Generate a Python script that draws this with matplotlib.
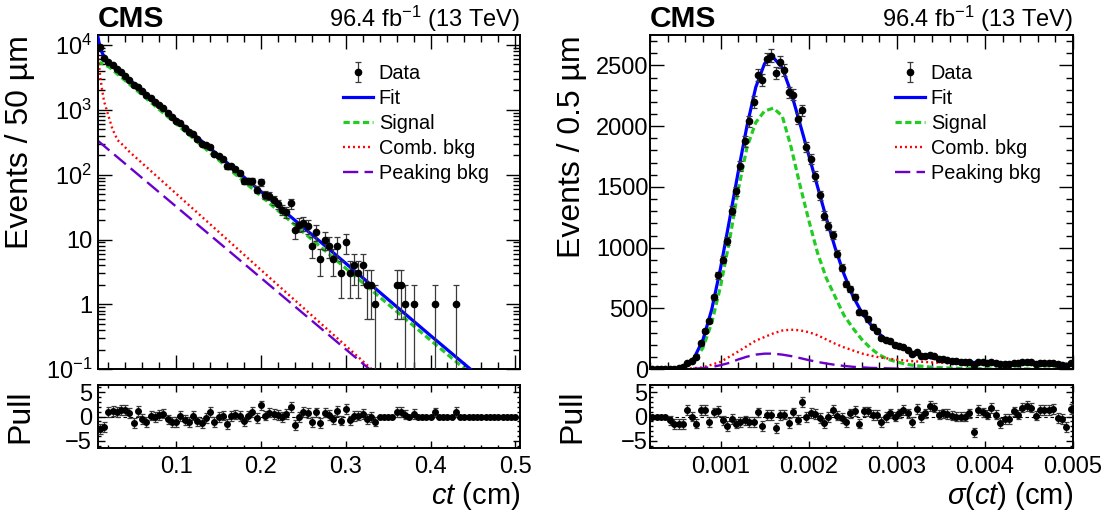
import numpy as np
import matplotlib.pyplot as plt
from matplotlib.ticker import MultipleLocator, FixedLocator, FixedFormatter, LogLocator, NullFormatter

plt.rcParams['font.family'] = ['Liberation Sans', 'DejaVu Sans']
plt.rcParams['mathtext.fontset'] = 'custom'
plt.rcParams['mathtext.rm'] = 'Liberation Sans'
plt.rcParams['mathtext.it'] = 'Liberation Sans:italic'
plt.rcParams['mathtext.bf'] = 'Liberation Sans:bold'
plt.rcParams['lines.scale_dashes'] = False

# ---------------- ct distribution (left) ----------------
ct_xlim = (0.0075, 0.5055)
ct_first_center = 0.01
ct_bin = 0.005
ct_counts = [9250, 6330, 5470, 4862, 4270, 3786, 3343, 2908, 2457, 2280,
             1935, 1676, 1523, 1330, 1186, 1052, 891, 766, 675, 621,
             529, 454, 426, 353, 302, 282, 267, 205, 195, 176,
             134, 135, 122, 105, 81, 81, 79, 59, 76, 49,
             47, 40, 35, 29, 27, 36, 14, 17, 18, 16,
             8, 13, 5, 10, 8, 5, 8, 3, 9, 3,
             4, 3, 4, 2, 2, 1, 0, 0, 0, 0,
             2, 2, 1, 0, 1, 0, 0, 0, 0, 1,
             0, 0, 0, 0, 1, 0, 0, 0, 0, 0,
             0, 0, 0, 0, 0, 0, 0, 0, 0]
ct_pull = [-2.6, -2.1, 0.9, 1.1, 0.9, 1.3, 1.4, 0.7, -1.4, 1.2,
           -0.5, -1.1, 0.2, -0.1, 0.35, 0.6, -0.6, -1.2, -1.1, 0.1,
           -0.7, -1.2, 0.2, -1.0, -1.4, -0.35, 0.9, -1.2, -0.1, 0.2,
           -1.5, 0.1, 0.4, 0.1, -1.0, 0.1, 0.9, -0.35, 2.3, 0.2,
           0.8, 0.5, 0.35, -0.1, 0.5, 2.0, -1.8, -0.1, 0.9, 0.7,
           -1.2, 0.85, -1.3, 0.8, 0.35, -0.6, 1.2, -0.85, 1.5, -0.8,
           0.1, 0.2, 0.55, -0.5, -0.1, -1.05, 0, 0, 0, 0,
           0.9, 0.9, 0.4, 0, 0.55, 0, 0, 0, 0, 0.85,
           0, 0, 0, 0, 0.9, 0, 0, 0, 0, 0,
           0, 0, 0, 0, 0, 0, 0, 0, 0]

ct_fit_x = [0.0075, 0.009, 0.01, 0.0125, 0.015, 0.0175, 0.021, 0.05, 0.1, 0.2, 0.3, 0.4, 0.45]
ct_fit_y = [14000, 11000, 9600, 7700, 6600, 5900, 5370, 2560, 713, 55, 4.3, 0.33, 0.093]
ct_sig_x = [0.0075, 0.011, 0.015, 0.021, 0.05, 0.1, 0.2, 0.3, 0.4, 0.45]
ct_sig_y = [5000, 5300, 5000, 4570, 2180, 607, 46.8, 3.6, 0.28, 0.079]
ct_comb_x = [0.0075, 0.009, 0.0105, 0.0125, 0.015, 0.019, 0.025, 0.031, 0.038, 0.045, 0.1, 0.2, 0.3, 0.335]
ct_comb_y = [7500, 5000, 3200, 2100, 1350, 910, 500, 340, 280, 225, 51, 3.4, 0.23, 0.089]
ct_peak_x = [0.0075, 0.1, 0.2, 0.3, 0.335]
ct_peak_y = [335, 32.2, 2.56, 0.203, 0.084]

# ---------------- sigma(ct) distribution (right) ----------------
sg_xlim = (0.0002, 0.005)
sg_first_center = 0.000225
sg_bin = 0.00005
sg_counts = [0, 0, 0, 0, 1, 2, 6, 15, 48, 70,
             104, 213, 317, 397, 590, 773, 901, 1053, 1304, 1463,
             1674, 1875, 2040, 2198, 2421, 2380, 2555, 2580, 2434, 2525,
             2460, 2277, 2260, 2060, 2130, 1826, 1729, 1590, 1431, 1263,
             1177, 1102, 951, 833, 700, 662, 597, 468, 464, 411,
             351, 315, 257, 243, 230, 198, 189, 180, 156, 122,
             140, 112, 111, 118, 106, 87, 84, 77, 71, 65,
             62, 59, 62, 31, 63, 58, 54, 62, 52, 39,
             45, 44, 54, 49, 59, 60, 57, 45, 53, 52,
             52, 52, 40, 38, 27, 49]
sg_pull = [0, 0, 0, 0, -0.8, -1.6, -1.6, -1.6, 1.3, 0,
           -1.45, 1.3, 1.3, -1.1, 0.85, 1.2, -0.8, -2.0, -0.45, -1.45,
           -1.1, -0.8, -1.1, -1.1, 0.85, -2.0, 0.3, 0.3, -2.4, 0.3,
           0.4, -1.3, 0.85, -0.65, 3.0, -0.1, 0.7, 0.5, -0.25, -1.3,
           -0.1, 1.3, 0.2, -0.25, -1.1, 0.65, 1.2, -1.45, 1.05, 1.05,
           0.3, 0.3, -1.1, -0.1, 0.65, 0, 0.65, 1.3, 0.65, -1.1,
           1.5, -0.1, 0.65, 2.2, 1.85, 0.4, 0.65, 0.5, 0.2, 0,
           0, 0, 0.65, -3.3, 1.3, 0.85, 0.4, 1.7, 0.4, -1.3,
           -0.45, -0.45, 1.05, 0.4, 1.85, 2.2, 1.85, 0.2, 1.3, 1.3,
           1.3, 1.5, -0.25, -0.45, -2.2, 1.5]

sg_fit_x = [0.0002, 0.0004, 0.0005, 0.0006, 0.0007, 0.0008, 0.0009, 0.001, 0.0011, 0.0012,
            0.0013, 0.0014, 0.0015, 0.0016, 0.0017, 0.0018, 0.0019, 0.002, 0.0021, 0.0022,
            0.0023, 0.0024, 0.0025, 0.0026, 0.0027, 0.0028, 0.0029, 0.003, 0.0032, 0.0034,
            0.0036, 0.0038, 0.004, 0.0043, 0.0046, 0.005]
sg_fit_y = [0, 1, 4, 30, 92, 240, 490, 830, 1220, 1620,
            2000, 2320, 2515, 2565, 2480, 2280, 2025, 1765, 1505, 1245,
            1000, 785, 605, 470, 370, 292, 232, 190, 130, 92,
            71, 58, 52, 47, 45, 40]
sg_sig_x = [0.0002, 0.0005, 0.0006, 0.0007, 0.0008, 0.0009, 0.001, 0.0011, 0.0012, 0.0013,
            0.0014, 0.0015, 0.0016, 0.0017, 0.0018, 0.0019, 0.002, 0.0021, 0.0022, 0.0023,
            0.0024, 0.0025, 0.0026, 0.0027, 0.0028, 0.0029, 0.003, 0.0031, 0.0032, 0.0034,
            0.0036, 0.004, 0.005]
sg_sig_y = [0, 3, 20, 65, 175, 380, 680, 1050, 1470, 1825,
            2030, 2125, 2148, 2085, 1830, 1520, 1230, 960, 750, 598,
            445, 340, 248, 175, 118, 82, 60, 42, 30, 16,
            9, 3, 0.5]
sg_comb_x = [0.0002, 0.0006, 0.0008, 0.001, 0.0012, 0.0014, 0.0016, 0.0017, 0.0018, 0.0019,
             0.002, 0.0021, 0.0022, 0.0023, 0.0024, 0.0025, 0.0026, 0.0027, 0.0028, 0.003,
             0.0032, 0.0034, 0.0036, 0.004, 0.0045, 0.005]
sg_comb_y = [0, 2, 15, 60, 145, 235, 295, 318, 325, 320,
             305, 280, 245, 210, 180, 155, 130, 112, 98, 78,
             65, 56, 50, 42, 36, 32]
sg_peak_x = [0.0002, 0.0006, 0.0008, 0.0009, 0.001, 0.0011, 0.0012, 0.0013, 0.0014, 0.0015,
             0.0016, 0.0017, 0.0018, 0.0019, 0.002, 0.0021, 0.0022, 0.0023, 0.0024, 0.0025,
             0.0027, 0.003, 0.0035, 0.004, 0.005]
sg_peak_y = [0, 1, 8, 18, 33, 52, 80, 103, 120, 128,
             128, 120, 108, 92, 75, 60, 47, 36, 27, 20,
             11, 5, 2, 1, 0.3]

legend_labels = ['Data', 'Fit', 'Signal', 'Comb. bkg', 'Peaking bkg']

W, H = 1112, 512
fig = plt.figure(figsize=(W / 100, H / 100), dpi=100)


def px_axes(x0, x1, ytop, ybot):
    return fig.add_axes([x0 / W, 1 - ybot / H, (x1 - x0) / W, (ybot - ytop) / H])


def style(ax, major, minor):
    ax.tick_params(which='both', direction='in', top=True, right=True, width=1.0,
                   labelsize=17, colors='black')
    ax.tick_params(which='major', length=major)
    ax.tick_params(which='minor', length=minor)
    for s in ax.spines.values():
        s.set_linewidth(1.4)


def draw_curves(ax, fit, sig, comb, peak):
    ax.plot(fit[0], fit[1], color='#0000ff', lw=2.3, label='Fit', zorder=3)
    ax.plot(sig[0], sig[1], color='#22cc22', lw=2.3, dashes=(4.5, 2.5), label='Signal', zorder=2)
    ax.plot(comb[0], comb[1], color='#ff0000', lw=1.7, dashes=(1.4, 2.2), label='Comb. bkg', zorder=2)
    ax.plot(peak[0], peak[1], color='#6a00cc', lw=1.7, dashes=(11, 4.5), label='Peaking bkg', zorder=2)


def draw_data(ax, x, y, ms=4.5):
    return ax.errorbar(x, y, yerr=np.sqrt(y), fmt='o', color='black', ms=ms,
                       ecolor='#3a3a3a', elinewidth=0.9, capsize=2, capthick=0.9,
                       label='Data', zorder=5)


def draw_pull(axp, x, pull, counts):
    pull = np.asarray(pull)
    counts = np.asarray(counts)
    err = np.where(counts > 0, 1.0, 0.0)
    axp.axhline(0, color='black', lw=0.8, dashes=(2.5, 2), zorder=1)
    axp.errorbar(x, pull, yerr=err, fmt='o', color='black', ms=4.0,
                 ecolor='#3a3a3a', elinewidth=0.9, capsize=1.8, capthick=0.9, zorder=5)
    axp.set_ylim(-6.5, 6.5)
    axp.yaxis.set_major_locator(FixedLocator([-5, 0, 5]))
    axp.yaxis.set_minor_locator(MultipleLocator(1))
    style(axp, 5, 2.5)


def add_legend(ax, x0):
    h, l = ax.get_legend_handles_labels()
    order = [l.index(n) for n in legend_labels]
    ax.legend([h[i] for i in order], [l[i] for i in order], loc='upper left',
              bbox_to_anchor=(x0, 0.913), frameon=False, fontsize=14.3, borderpad=0,
              borderaxespad=0, handlelength=1.5, handletextpad=0.3, labelspacing=0.3)


# ---------------- left panel ----------------
ax1 = px_axes(97.7, 520, 35, 369.2)
ax1p = px_axes(97.7, 520, 385, 448)
ct_x = ct_first_center + ct_bin * np.arange(len(ct_counts))
ct_c = np.asarray(ct_counts, dtype=float)
draw_curves(ax1, (ct_fit_x, ct_fit_y), (ct_sig_x, ct_sig_y),
            (ct_comb_x, ct_comb_y), (ct_peak_x, ct_peak_y))
nz = ct_c > 0
draw_data(ax1, ct_x[nz], ct_c[nz])
ax1.set_yscale('log')
ax1.set_xlim(*ct_xlim)
ax1.set_ylim(0.1, 14250)
ax1.yaxis.set_major_locator(FixedLocator([0.1, 1, 10, 100, 1000, 10000]))
ax1.yaxis.set_major_formatter(FixedFormatter(['$10^{-1}$', '1', '10', '$10^{2}$', '$10^{3}$', '$10^{4}$']))
ax1.yaxis.set_minor_locator(LogLocator(base=10, subs=np.arange(2, 10), numticks=20))
ax1.yaxis.set_minor_formatter(NullFormatter())
ax1.xaxis.set_major_locator(MultipleLocator(0.1))
ax1.xaxis.set_minor_locator(MultipleLocator(0.02))
ax1.tick_params(labelbottom=False)
style(ax1, 10, 5)
ax1.tick_params(axis='y', pad=4)
ax1.set_ylabel('Events / 50 µm', fontsize=23, loc='top')
ax1.yaxis.set_label_coords(-0.148, 1.0)
add_legend(ax1, 0.581)

draw_pull(ax1p, ct_x, ct_pull, ct_counts)
ax1p.set_xlim(*ct_xlim)
ax1p.xaxis.set_major_locator(FixedLocator([0.1, 0.2, 0.3, 0.4, 0.5]))
ax1p.xaxis.set_major_formatter(FixedFormatter(['0.1', '0.2', '0.3', '0.4', '0.5']))
ax1p.xaxis.set_minor_locator(MultipleLocator(0.02))
ax1p.tick_params(axis='x', pad=6)
ax1p.tick_params(axis='y', pad=4)
ax1p.set_ylabel('Pull', fontsize=23)
ax1p.yaxis.set_label_coords(-0.148, 0.5)
ax1p.set_xlabel(r'$ct$ (cm)', fontsize=21, loc='right')
ax1p.xaxis.set_label_coords(1.0, -0.5)

# ---------------- right panel ----------------
ax2 = px_axes(650, 1073, 35, 369.2)
ax2p = px_axes(650, 1073, 385, 448)
sg_x = sg_first_center + sg_bin * np.arange(len(sg_counts))
sg_c = np.asarray(sg_counts, dtype=float)
draw_curves(ax2, (sg_fit_x, sg_fit_y), (sg_sig_x, sg_sig_y),
            (sg_comb_x, sg_comb_y), (sg_peak_x, sg_peak_y))
draw_data(ax2, sg_x, sg_c)
ax2.set_xlim(*sg_xlim)
ax2.set_ylim(0, 2750)
ax2.yaxis.set_major_locator(MultipleLocator(500))
ax2.yaxis.set_minor_locator(MultipleLocator(100))
ax2.xaxis.set_major_locator(MultipleLocator(0.001))
ax2.xaxis.set_minor_locator(MultipleLocator(0.0002))
ax2.tick_params(labelbottom=False)
style(ax2, 10, 5)
ax2.tick_params(axis='y', pad=1)
ax2.set_ylabel('Events / 0.5 µm', fontsize=23, loc='top')
ax2.yaxis.set_label_coords(-0.148, 1.0)
add_legend(ax2, 0.579)

draw_pull(ax2p, sg_x, sg_pull, sg_counts)
ax2p.set_xlim(*sg_xlim)
ax2p.xaxis.set_major_locator(FixedLocator([0.001, 0.002, 0.003, 0.004, 0.005]))
ax2p.xaxis.set_major_formatter(FixedFormatter(['0.001', '0.002', '0.003', '0.004', '0.005']))
ax2p.xaxis.set_minor_locator(MultipleLocator(0.0002))
ax2p.tick_params(axis='x', pad=6)
ax2p.tick_params(axis='y', pad=2)
ax2p.set_ylabel('Pull', fontsize=23)
ax2p.yaxis.set_label_coords(-0.148, 0.5)
ax2p.set_xlabel(r'$\mathit{\sigma(ct)}$ (cm)', fontsize=21, loc='right')
ax2p.xaxis.set_label_coords(1.0, -0.5)

# ---------------- header texts ----------------
for xl, xr in [(97.7, 520), (650, 1073)]:
    fig.text(xl / W, 1 - 27 / H, 'CMS', fontsize=21.5, fontweight='bold', ha='left', va='baseline')
    fig.text(xr / W, 1 - 27 / H, r'96.4 fb$^{-1}$ (13 TeV)', fontsize=17, ha='right', va='baseline')

fig.savefig('out.png', dpi=100)
